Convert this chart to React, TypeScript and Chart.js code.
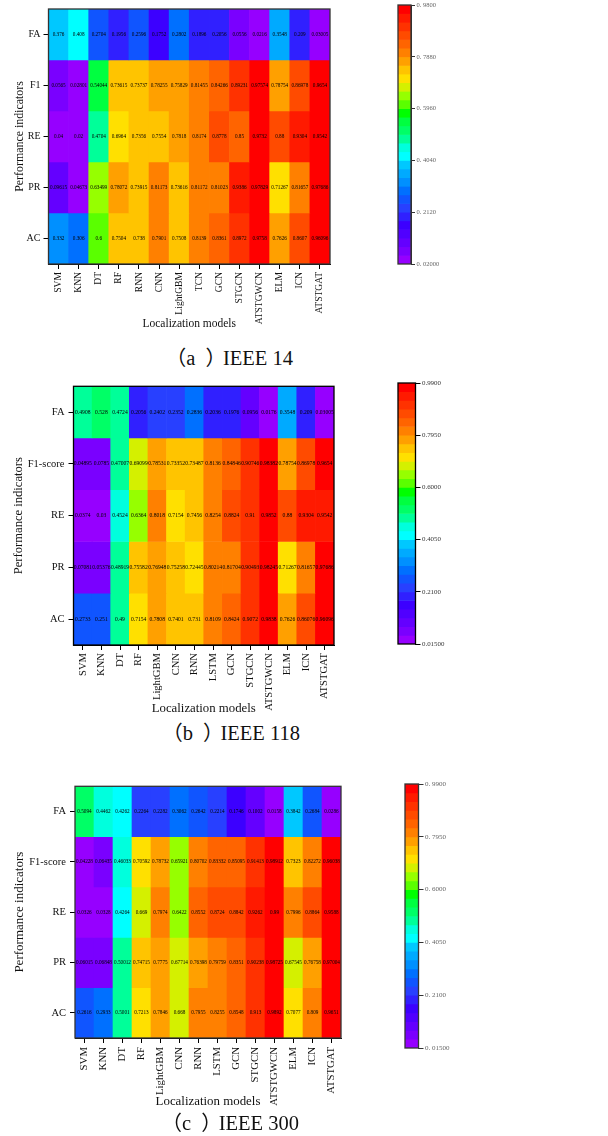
import React, { useEffect, useRef } from "react";
import { Chart, registerables } from "chart.js";

Chart.register(...registerables);

const modelsA = ["SVM", "KNN", "DT", "RF", "RNN", "CNN", "LightGBM", "TCN", "GCN", "STGCN", "ATSTGWCN", "ELM", "ICN", "ATSTGAT"];
const modelsB = ["SVM", "KNN", "DT", "RF", "LightGBM", "CNN", "RNN", "LSTM", "GCN", "STGCN", "ATSTGWCN", "ELM", "ICN", "ATSTGAT"];
const modelsC = ["SVM", "KNN", "DT", "RF", "LightGBM", "CNN", "RNN", "LSTM", "GCN", "STGCN", "ATSTGWCN", "ELM", "ICN", "ATSTGAT"];

const rowsA = ["FA", "F1", "RE", "PR", "AC"];
const rowsBC = ["FA", "F1-score", "RE", "PR", "AC"];

const faA = [0.376, 0.408, 0.2704, 0.1956, 0.2596, 0.1752, 0.2802, 0.1896, 0.2056, 0.0556, 0.0216, 0.3548, 0.209, 0.03005];
const f1A = [0.0565, 0.02801, 0.54044, 0.73615, 0.73737, 0.78255, 0.75829, 0.81455, 0.84266, 0.89231, 0.97574, 0.78754, 0.86978, 0.9654];
const reA = [0.04, 0.02, 0.4704, 0.6964, 0.7356, 0.7554, 0.7818, 0.8174, 0.8778, 0.85, 0.9732, 0.88, 0.9304, 0.9542];
const prA = [0.09615, 0.04673, 0.63499, 0.78072, 0.73915, 0.81173, 0.73616, 0.81172, 0.81023, 0.9386, 0.97829, 0.71267, 0.81657, 0.97686];
const acA = [0.332, 0.306, 0.6, 0.7504, 0.738, 0.7901, 0.7508, 0.8139, 0.8361, 0.8972, 0.9758, 0.7626, 0.8607, 0.96096];

const faB = [0.4908, 0.528, 0.4724, 0.2056, 0.2402, 0.2352, 0.2836, 0.2036, 0.1976, 0.0956, 0.0176, 0.3548, 0.209, 0.03005];
const f1B = [0.04895, 0.0785, 0.47007, 0.69099, 0.78531, 0.73352, 0.73487, 0.8136, 0.84846, 0.90746, 0.98382, 0.78754, 0.86978, 0.9654];
const reB = [0.0374, 0.03, 0.4524, 0.6364, 0.8018, 0.7154, 0.7456, 0.8254, 0.8824, 0.91, 0.9852, 0.88, 0.9304, 0.9542];
const prB = [0.07081, 0.05376, 0.48919, 0.75582, 0.76948, 0.75258, 0.72445, 0.80214, 0.81704, 0.90493, 0.98245, 0.71267, 0.81657, 0.97686];
const acB = [0.2733, 0.251, 0.49, 0.7154, 0.7808, 0.7401, 0.731, 0.8109, 0.8424, 0.9072, 0.9838, 0.7626, 0.86076, 0.96096];

const faC = [0.5094, 0.4462, 0.4262, 0.2264, 0.2282, 0.3062, 0.2642, 0.2214, 0.1746, 0.1002, 0.0158, 0.3842, 0.2684, 0.0286];
const f1C = [0.04228, 0.06435, 0.46033, 0.70592, 0.78732, 0.65921, 0.80702, 0.83332, 0.85095, 0.91413, 0.98912, 0.7323, 0.82272, 0.96038];
const reC = [0.0326, 0.0328, 0.4264, 0.669, 0.7974, 0.6422, 0.8552, 0.8724, 0.8842, 0.9262, 0.99, 0.7996, 0.8864, 0.9588];
const prC = [0.06015, 0.06848, 0.50012, 0.74715, 0.7775, 0.67714, 0.76398, 0.79759, 0.8351, 0.90238, 0.98725, 0.67545, 0.76758, 0.97004];
const acC = [0.2616, 0.2933, 0.5001, 0.7213, 0.7846, 0.668, 0.7955, 0.8255, 0.8548, 0.913, 0.9892, 0.7077, 0.809, 0.9651];

const tickValuesA = [0.02, 0.212, 0.404, 0.596, 0.788, 0.98];
const tickLabelsA = ["0. 02000", "0. 2120", "0. 4040", "0. 5960", "0. 7880", "0. 9800"];
const tickValuesBC = [0.015, 0.21, 0.405, 0.6, 0.795, 0.99];
const tickLabelsB = ["0.01500", "0.2100", "0.4050", "0.6000", "0.7950", "0.9900"];
const tickLabelsC = ["0. 01500", "0. 2100", "0. 4050", "0. 6000", "0. 7950", "0. 9900"];

// 30-step rainbow contour palette, low to high
const palette = [
  "#9600ff", "#7a00ff", "#6400ff", "#5000ff", "#3c00ff", "#3020ff", "#2840ff", "#1055ff", "#0070ff", "#0090ff",
  "#00aaff", "#00c8ff", "#00ffff", "#00ffdd", "#00ff99", "#00ff66", "#00ff40", "#00ff00", "#5aff00", "#96ff00",
  "#d4f000", "#ffe000", "#ffc400", "#ffa000", "#ff8000", "#ff6400", "#ff4b00", "#ff3200", "#ff1a00", "#ff0000",
];

const SERIF = '"Liberation Serif", "Times New Roman", serif';

const colorOf = (v: number, lo: number, hi: number) => {
  const i = Math.floor(((v - lo) / (hi - lo)) * palette.length);
  return palette[Math.max(0, Math.min(palette.length - 1, i))];
};

type HeatProps = {
  models: string[];
  rows: string[];
  matrix: number[][];
  lo: number;
  hi: number;
  top: number;
  plot: { left: number; right: number; top: number; bottom: number };
  titleX: number;
  xTitleY: number;
  tickSizeX: number;
  tickSizeY: number;
  titleSize: number;
  yTitleSize: number;
  cellSize: number;
  xPad: number;
  yPad: number;
  frame: string;
};

function Heat(p: HeatProps) {
  const ref = useRef<HTMLCanvasElement>(null);
  const W = 372;
  const lh = p.titleSize * 1.2;
  const lhY = p.yTitleSize * 1.2;
  const scaleBottom = p.xTitleY + lh / 2;
  const H = Math.ceil(scaleBottom - p.top);
  useEffect(() => {
    const cellLabels = {
      id: "cellLabels",
      afterDatasetsDraw(chart: any) {
        const { ctx, chartArea } = chart;
        ctx.save();
        ctx.font = `${p.cellSize}px ${SERIF}`;
        ctx.fillStyle = "#000";
        ctx.textAlign = "center";
        ctx.textBaseline = "middle";
        chart.data.datasets.forEach((ds: any, di: number) => {
          chart.getDatasetMeta(di).data.forEach((bar: any, i: number) => {
            const c = bar.getCenterPoint();
            ctx.fillText(String(ds.data[i].v), c.x, c.y);
          });
        });
        ctx.strokeStyle = p.frame;
        ctx.lineWidth = 1.3;
        ctx.strokeRect(chartArea.left, chartArea.top, chartArea.width, chartArea.height);
        ctx.restore();
      },
    };
    const chart = new Chart(ref.current as HTMLCanvasElement, {
      type: "bar",
      data: {
        labels: p.models,
        datasets: p.matrix.map((row, r) => ({
          label: p.rows[r],
          grouped: false,
          data: row.map((v, i) => ({ x: p.models[i], y: [r - 0.5, r + 0.5], v })),
          backgroundColor: row.map((v) => colorOf(v, p.lo, p.hi)),
          borderWidth: 0,
          barPercentage: 1,
          categoryPercentage: 1,
        })),
      } as any,
      options: {
        responsive: false,
        devicePixelRatio: 1,
        animation: false,
        maintainAspectRatio: false,
        layout: {
          autoPadding: false,
          padding: { left: p.titleX - lhY / 2, right: W - p.plot.right, top: p.plot.top - p.top, bottom: H - (scaleBottom - p.top) },
        },
        plugins: { legend: { display: false }, tooltip: { enabled: false } },
        scales: {
          x: {
            type: "category",
            offset: true,
            grid: { offset: false, drawOnChartArea: false, tickLength: 5, tickColor: "#000", lineWidth: 1 },
            border: { color: "#000" },
            ticks: {
              autoSkip: false,
              minRotation: 90,
              maxRotation: 90,
              padding: p.xPad,
              color: "#111",
              font: { family: SERIF, size: p.tickSizeX },
            },
            title: {
              display: true,
              text: "Localization models",
              color: "#111",
              padding: 0,
              font: { family: SERIF, size: p.titleSize, lineHeight: 1.2 },
            },
            afterFit: (s: any) => {
              s.height = scaleBottom - p.plot.bottom;
            },
          },
          y: {
            type: "linear",
            reverse: true,
            min: -0.5,
            max: 4.5,
            grid: { drawOnChartArea: false, tickLength: 5, tickColor: "#000", lineWidth: 1 },
            border: { color: "#000" },
            afterBuildTicks: (s: any) => {
              s.ticks = p.rows.map((_, i) => ({ value: i }));
            },
            ticks: {
              padding: p.yPad,
              color: "#111",
              font: { family: SERIF, size: p.tickSizeY },
              callback: (v: any) => p.rows[v as number],
            },
            title: {
              display: true,
              text: "Performance indicators",
              color: "#111",
              padding: 0,
              font: { family: SERIF, size: p.yTitleSize, lineHeight: 1.2 },
            },
            afterFit: (s: any) => {
              s.width = p.plot.left - (p.titleX - lhY / 2);
            },
          },
        },
      } as any,
      plugins: [cellLabels],
    });
    return () => chart.destroy();
  }, []);
  return <canvas ref={ref} width={W} height={H} style={{ position: "absolute", left: 0, top: p.top, width: W, height: H }} />;
}

type BarProps = {
  lo: number;
  hi: number;
  values: number[];
  labels: string[];
  bar: { left: number; right: number; top: number; bottom: number };
  frame: string;
  textColor: string;
  size: number;
  tick: number;
};

function ColorBar(p: BarProps) {
  const ref = useRef<HTMLCanvasElement>(null);
  const X = p.bar.left - 4;
  const Y = p.bar.top - 6;
  const W = 70;
  const H = p.bar.bottom - p.bar.top + 12;
  useEffect(() => {
    const step = (p.hi - p.lo) / palette.length;
    const frame = {
      id: "barFrame",
      afterDatasetsDraw(chart: any) {
        const { ctx, chartArea } = chart;
        ctx.save();
        ctx.strokeStyle = p.frame;
        ctx.lineWidth = 1.3;
        ctx.strokeRect(chartArea.left, chartArea.top, chartArea.width, chartArea.height);
        ctx.restore();
      },
    };
    const chart = new Chart(ref.current as HTMLCanvasElement, {
      type: "bar",
      data: {
        labels: ["scale"],
        datasets: [
          {
            data: palette.map((_, i) => ({ x: "scale", y: [p.lo + i * step, p.lo + (i + 1) * step] })),
            backgroundColor: palette,
            borderWidth: 0,
            grouped: false,
            barPercentage: 1,
            categoryPercentage: 1,
          },
        ],
      } as any,
      options: {
        responsive: false,
        devicePixelRatio: 1,
        animation: false,
        maintainAspectRatio: false,
        layout: { autoPadding: false, padding: { left: 4, right: 0, top: 6, bottom: 6 } },
        plugins: { legend: { display: false }, tooltip: { enabled: false } },
        scales: {
          x: { type: "category", display: false },
          y: {
            type: "linear",
            position: "right",
            min: p.lo,
            max: p.hi,
            grid: { drawOnChartArea: false, tickLength: p.tick, tickColor: p.frame, lineWidth: 1 },
            border: { color: p.frame },
            afterBuildTicks: (s: any) => {
              s.ticks = p.values.map((value) => ({ value }));
            },
            ticks: {
              padding: 1.5,
              color: p.textColor,
              font: { family: SERIF, size: p.size },
              callback: (v: any) => p.labels[p.values.indexOf(v)],
            },
            afterFit: (s: any) => {
              s.width = W - 4 - (p.bar.right - p.bar.left);
            },
          },
        },
      } as any,
      plugins: [frame],
    });
    return () => chart.destroy();
  }, []);
  return <canvas ref={ref} width={W} height={H} style={{ position: "absolute", left: X, top: Y, width: W, height: H }} />;
}

function Caption({ letter, rest, right, cy }: { letter: string; rest: string; right: number; cy: number }) {
  return (
    <div
      lang="zh-CN"
      style={{
        position: "absolute",
        right: 608 - right,
        top: cy - 14,
        height: 28,
        lineHeight: "28px",
        fontSize: 20.5,
        whiteSpace: "nowrap",
        color: "#111",
        fontFamily: '"Liberation Serif", "Noto Sans CJK SC", serif',
      }}
    >
      （<span style={{ marginRight: 10 }}>{letter}</span>
      <span style={{ marginRight: -3 }}>）</span>
      {rest}
    </div>
  );
}

export default function App() {
  return (
    <div style={{ position: "absolute", left: 0, top: 0, width: 608, height: 1136, overflow: "hidden", background: "#fff" }}>
      <Heat
        models={modelsA}
        rows={rowsA}
        matrix={[faA, f1A, reA, prA, acA]}
        lo={0.02}
        hi={0.98}
        top={0}
        plot={{ left: 48.5, right: 330, top: 5, bottom: 264 }}
        titleX={20}
        xTitleY={324}
        tickSizeX={9.6}
        tickSizeY={10}
        titleSize={11.5}
        yTitleSize={11.9}
        cellSize={5.2}
        xPad={3}
        yPad={3}
        frame="#333"
      />
      <ColorBar
        lo={0.02}
        hi={0.98}
        values={tickValuesA}
        labels={tickLabelsA}
        bar={{ left: 398, right: 411, top: 5, bottom: 264 }}
        frame="#333"
        textColor="#666"
        size={6.5}
        tick={4}
      />
      <Caption letter="a" rest="IEEE 14" right={293} cy={358} />

      <Heat
        models={modelsB}
        rows={rowsBC}
        matrix={[faB, f1B, reB, prB, acB]}
        lo={0.015}
        hi={0.99}
        top={376}
        plot={{ left: 73.5, right: 334, top: 383, bottom: 645 }}
        titleX={19}
        xTitleY={709}
        tickSizeX={10.6}
        tickSizeY={10.5}
        titleSize={12.8}
        yTitleSize={12.6}
        cellSize={5.6}
        xPad={3}
        yPad={4}
        frame="#000"
      />
      <ColorBar
        lo={0.015}
        hi={0.99}
        values={tickValuesBC}
        labels={tickLabelsB}
        bar={{ left: 398, right: 415.5, top: 383, bottom: 644 }}
        frame="#000"
        textColor="#333"
        size={6.9}
        tick={5}
      />
      <Caption letter="b" rest="IEEE 118" right={300} cy={733} />

      <Heat
        models={modelsC}
        rows={rowsBC}
        matrix={[faC, f1C, reC, prC, acC]}
        lo={0.015}
        hi={0.99}
        top={776}
        plot={{ left: 75, right: 341, top: 784, bottom: 1038 }}
        titleX={20}
        xTitleY={1101.5}
        tickSizeX={10.8}
        tickSizeY={10.5}
        titleSize={12.9}
        yTitleSize={13}
        cellSize={5.2}
        xPad={4}
        yPad={4}
        frame="#333"
      />
      <ColorBar
        lo={0.015}
        hi={0.99}
        values={tickValuesBC}
        labels={tickLabelsC}
        bar={{ left: 405, right: 418.5, top: 784, bottom: 1048 }}
        frame="#333"
        textColor="#666"
        size={7}
        tick={5}
      />
      <Caption letter="c" rest="IEEE 300" right={299} cy={1123} />
    </div>
  );
}
